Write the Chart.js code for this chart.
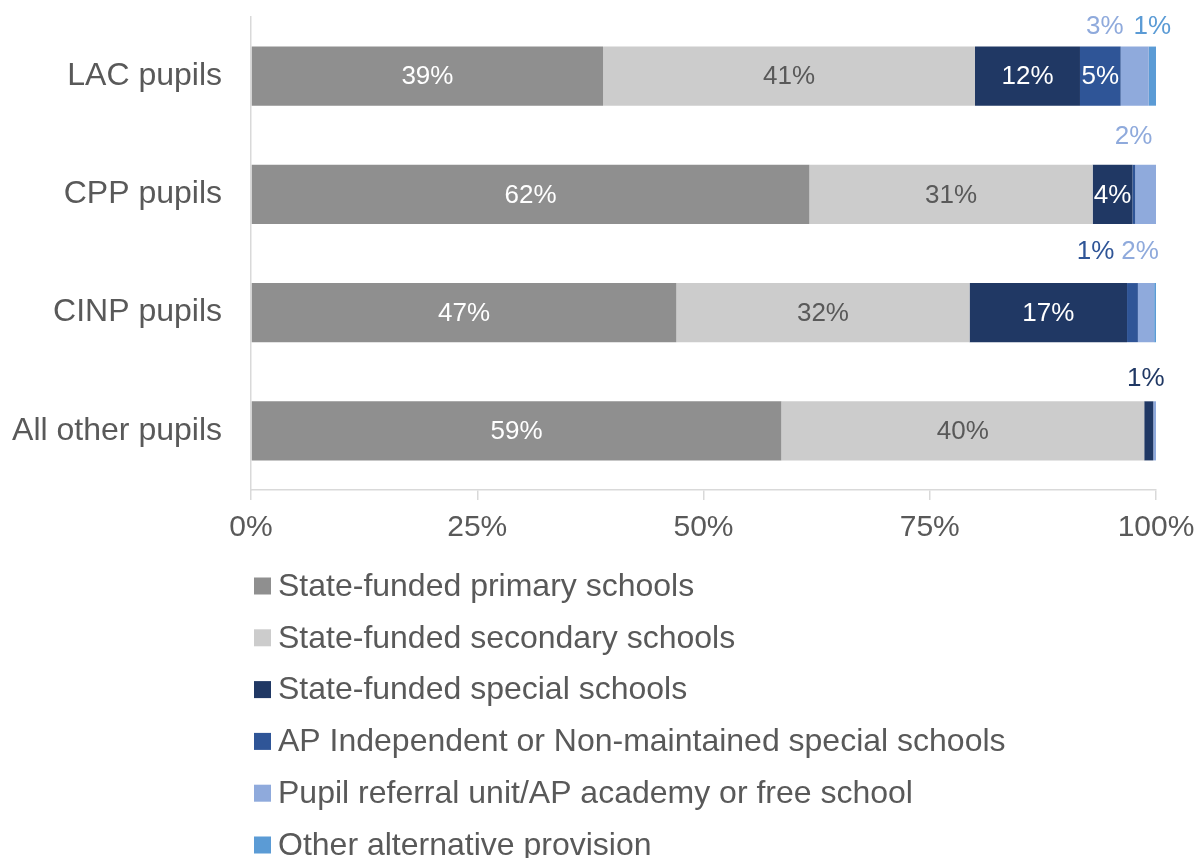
<!DOCTYPE html>
<html>
<head>
<meta charset="utf-8">
<title>Pupils by school type</title>
<script src="https://cdn.jsdelivr.net/npm/chart.js@4"></script>
<style>
  html, body { margin: 0; padding: 0; background: #ffffff; }
  #wrap { width: 1197px; height: 858px; position: relative; }
</style>
</head>
<body>
<div id="wrap"><canvas id="chart"></canvas></div>
<script>
// --- Data ---
const categories = ['LAC pupils', 'CPP pupils', 'CINP pupils', 'All other pupils'];
const seriesNames = [
  'State-funded primary schools',
  'State-funded secondary schools',
  'State-funded special schools',
  'AP Independent or Non-maintained special schools',
  'Pupil referral unit/AP academy or free school',
  'Other alternative provision'
];
const primaryValues   = [38.9, 61.7, 47.0, 58.6];
const secondaryValues = [41.1, 31.3, 32.4, 40.1];
const specialValues   = [11.6, 4.4, 17.4, 1.0];
const apIndepValues   = [4.5, 0.3, 1.2, 0.0];
const pruValues       = [3.1, 2.3, 1.8, 0.3];
const otherApValues   = [0.8, 0.0, 0.2, 0.0];
const xTicks = [0, 25, 50, 75, 100];

// --- Styles ---
const FONT = '"Liberation Sans", Arial, sans-serif';
const TEXT = '#595959';
const AXIS = '#d9d9d9';
const colors = ['#8f8f8f', '#cccccc', '#203864', '#2f5597', '#8faadc', '#5b9bd5'];

// label placement per series per category: 'in' = centred inside, [dx, dy] = above the bar, null = no label
const labelPlacement = [
  ['in', 'in', 'in', 'in'],
  ['in', 'in', 'in', 'in'],
  ['in', 'in', 'in', [-3, 22]],
  ['in', null, [-37, 31], null],
  [[-30, 20], [-12, 28], [-6, 31], null],
  [[0, 20], null, null, null]
];
const insideColors = ['#ffffff', TEXT, '#ffffff', '#ffffff', '#ffffff', '#ffffff'];

const allValues = [primaryValues, secondaryValues, specialValues, apIndepValues, pruValues, otherApValues];

// --- Plugins ---
const barLabels = {
  id: 'barLabels',
  afterDatasetsDraw(chart) {
    const ctx = chart.ctx;
    ctx.save();
    ctx.font = '26px ' + FONT;
    ctx.textAlign = 'center';
    ctx.textBaseline = 'middle';
    chart.data.datasets.forEach((ds, di) => {
      const meta = chart.getDatasetMeta(di);
      meta.data.forEach((bar, i) => {
        const place = labelPlacement[di][i];
        if (!place) return;
        const p = bar.getProps(['x', 'y', 'base', 'height'], true);
        const cx = (p.x + p.base) / 2;
        const txt = Math.round(ds.data[i]) + '%';
        if (place === 'in') {
          ctx.fillStyle = insideColors[di];
          ctx.fillText(txt, cx, p.y + 1);
        } else {
          ctx.fillStyle = colors[di];
          ctx.fillText(txt, cx + place[0], p.y - p.height / 2 - place[1]);
        }
      });
    });
    ctx.restore();
  }
};

const listLegend = {
  id: 'listLegend',
  afterDraw(chart) {
    const ctx = chart.ctx;
    const xs = chart.scales.x;
    const left = chart.chartArea.left + 3;
    ctx.save();
    ctx.font = '32px ' + FONT;
    ctx.textBaseline = 'middle';
    ctx.textAlign = 'left';
    chart.data.datasets.forEach((ds, i) => {
      const cy = xs.bottom + 40 + i * 51.8;
      ctx.fillStyle = ds.backgroundColor;
      ctx.fillRect(left, cy - 8.5, 17, 17);
      ctx.fillStyle = TEXT;
      ctx.fillText(ds.label, left + 24, cy + 1);
    });
    ctx.restore();
  }
};

// --- Chart ---
const datasets = seriesNames.map((name, i) => ({
  label: name,
  data: allValues[i],
  backgroundColor: colors[i],
  borderWidth: 0,
  barPercentage: 0.5,
  categoryPercentage: 1.0
}));

new Chart(document.getElementById('chart'), {
  type: 'bar',
  data: { labels: categories, datasets: datasets },
  options: {
    indexAxis: 'y',
    responsive: true,
    maintainAspectRatio: false,
    animation: false,
    layout: { padding: { top: 17, right: 41, bottom: 312, left: 0 } },
    plugins: {
      legend: { display: false },
      tooltip: { enabled: false }
    },
    scales: {
      x: {
        stacked: true,
        min: 0,
        max: 100,
        afterBuildTicks: (s) => { s.ticks = xTicks.map(v => ({ value: v })); },
        afterFit: (s) => { s.height = 56; s.paddingLeft = 0; s.paddingRight = 0; },
        grid: { drawOnChartArea: false, drawTicks: true, tickLength: 10, color: AXIS, lineWidth: 1.5 },
        border: { color: AXIS, width: 1.5 },
        ticks: {
          padding: 10,
          color: TEXT,
          font: { family: FONT, size: 30 },
          callback: v => v + '%',
          maxRotation: 0
        }
      },
      y: {
        stacked: true,
        afterFit: (s) => { s.width = 251; s.paddingTop = 0; s.paddingBottom = 0; },
        grid: { display: true, drawOnChartArea: false, drawTicks: false },
        border: { color: AXIS, width: 1.5 },
        ticks: {
          padding: 29,
          color: TEXT,
          font: { family: FONT, size: 32 }
        }
      }
    }
  },
  plugins: [barLabels, listLegend]
});
</script>
</body>
</html>
